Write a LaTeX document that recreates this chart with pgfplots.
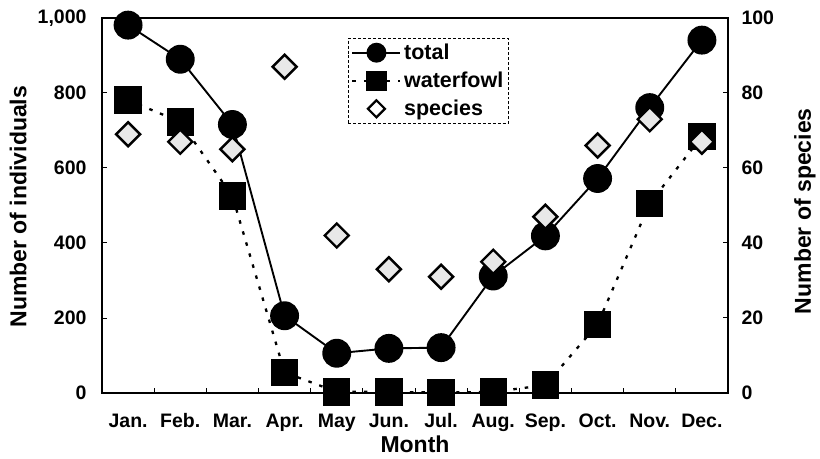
\documentclass[border=0pt]{standalone}
\usepackage{fontspec}
\setmainfont{Liberation Sans}
\usepackage{pgfplots}
\pgfplotsset{compat=1.18}
\newcommand\tickfont{\fontsize{19.5bp}{23bp}\selectfont\bfseries}
\newcommand\labelfont{\fontsize{23bp}{27bp}\selectfont\bfseries}
\newcommand\legfont{\fontsize{21.5bp}{25bp}\selectfont\bfseries}
\definecolor{dfill}{gray}{0.91}
\pgfplotstableread{
m total water species
0 981 781 69
1 890 723 67
2 716 525 65
3 206 55 87
4 106 3 42
5 119 3 33
6 121 1 31
7 312 3 35
8 419 21 47
9 572 183 66
10 761 506 73
11 941 684 67
}\data
\begin{document}
\begin{tikzpicture}
\path[use as bounding box] (-102bp,-66bp) rectangle (718bp,393bp);
\pgfplotsset{
  base/.style={
    at={(0,0)}, anchor=south west,
    scale only axis, width=626bp, height=375bp,
    xmin=-0.5, xmax=11.5, clip=false,
    tick align=inside,
    major tick length=5bp, minor tick length=5bp,
    every tick/.style={black, line width=1bp},
    axis line style={line width=1.7bp},
    /pgf/number format/assume math mode=true,
    /pgf/number format/1000 sep={,},
  },
  legend image code/.code={\draw[mark repeat=2,mark phase=2,#1] plot coordinates {(0bp,0bp) (24bp,0bp) (48bp,0bp)};},
}
\begin{axis}[base,
  ymin=0, ymax=1000,
  xtick={0,...,11},
  xticklabels={Jan.,Feb.,Mar.,Apr.,May,Jun.,Jul.,Aug.,Sep.,Oct.,Nov.,Dec.},
  major x tick style={draw=none},
  minor xtick={0.5,1.5,...,10.5},
  xtick pos=bottom, ytick pos=left,
  ytick={0,200,400,600,800,1000},
  yticklabel style={font=\tickfont, xshift=-12bp},
  xticklabel style={font=\tickfont, anchor=north, text height=14bp, text depth=4bp, yshift=-17bp},
  xlabel={Month},
  xlabel style={at={(axis description cs:0.5,-0.137)}, anchor=center, font=\labelfont},
  ylabel={Number of individuals},
  ylabel style={at={(axis description cs:-0.134,0.497)}, anchor=center, font=\labelfont},
  legend style={at={(axis description cs:0.393,0.947)}, anchor=north west,
    draw=black, densely dashed, line width=0.6bp, font=\legfont,
    inner xsep=3bp, inner ysep=4bp, row sep=7bp,
    nodes={inner xsep=2.5bp, solid}},
  legend cell align=left,
]
\addplot[black, line width=1.9bp, mark=*, mark size=13.5bp, forget plot] table[x=m,y=total]{\data};
\addplot[black, line width=2.3bp, dash pattern=on 3.5bp off 8bp, mark=square*, mark size=12.5bp, mark options={solid}, forget plot] table[x=m,y=water]{\data};
\addlegendimage{black, line width=1.9bp, mark=*, mark size=9bp}
\addlegendentry{total}
\addlegendimage{black, line width=2.3bp, dash pattern=on 3.5bp off 8bp, mark=square*, mark size=9bp, mark options={solid}}
\addlegendentry{waterfowl}
\addlegendimage{only marks, mark=square*, mark size=6bp, mark options={rotate=45, draw=black, fill=white, line width=2.2bp, solid}}
\addlegendentry{species}
\end{axis}
\begin{axis}[base,
  ymin=0, ymax=100,
  hide x axis,
  axis y line*=right,
  ytick={0,20,40,60,80,100},
  yticklabel style={font=\tickfont, xshift=10bp},
  ylabel={Number of species},
  ylabel style={at={(axis description cs:1.123,0.485)}, anchor=center, font=\labelfont, rotate=0},
]
\addplot[only marks, mark=square*, mark size=8.5bp, mark options={rotate=45, draw=black, fill=dfill, line width=2.4bp}] table[x=m,y=species]{\data};
\end{axis}
\end{tikzpicture}
\end{document}
